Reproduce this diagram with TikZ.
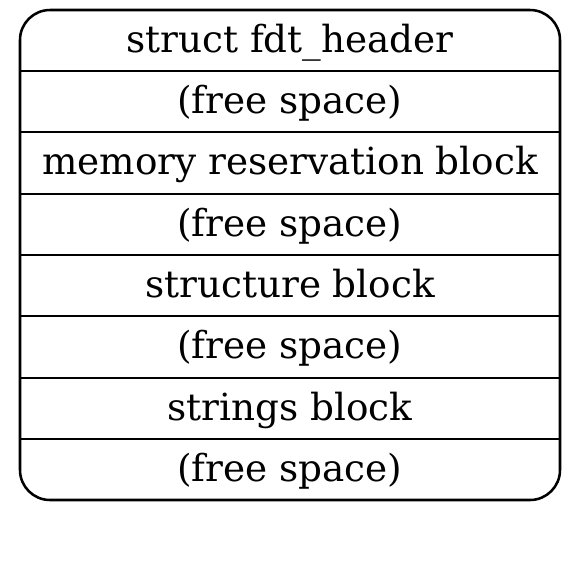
\documentclass[tikz,border=0pt]{standalone}
\usepackage{fontspec}
\setmainfont{DejaVu Serif}
\begin{document}
\begin{tikzpicture}[x=0.75pt,y=-0.75pt,
  rowtext/.style={anchor=base,inner sep=0pt,font=\fontsize{28}{33}\selectfont},
  sep/.style={line width=1.9pt}]
\useasboundingbox (0,0) rectangle (584,587);
\draw[line width=1.9pt,rounded corners=30*0.75pt] (20,10) rectangle (560,500);
\foreach \y in {71,132,194,255,316,378,439} \draw[sep] (20,\y) -- (560,\y);
\node[rowtext] (r1) at (290,52) {struct fdt\_header};
\node[rowtext] (r2) at (290,113) {(free space)};
\node[rowtext] (r3) at (290,174.5) {memory reservation block};
\node[rowtext] (r4) at (290,236) {(free space)};
\node[rowtext] (r5) at (290,297) {structure block};
\node[rowtext] (r6) at (290,358.5) {(free space)};
\node[rowtext] (r7) at (290,420) {strings block};
\node[rowtext] (r8) at (290,481) {(free space)};
\end{tikzpicture}
\end{document}
